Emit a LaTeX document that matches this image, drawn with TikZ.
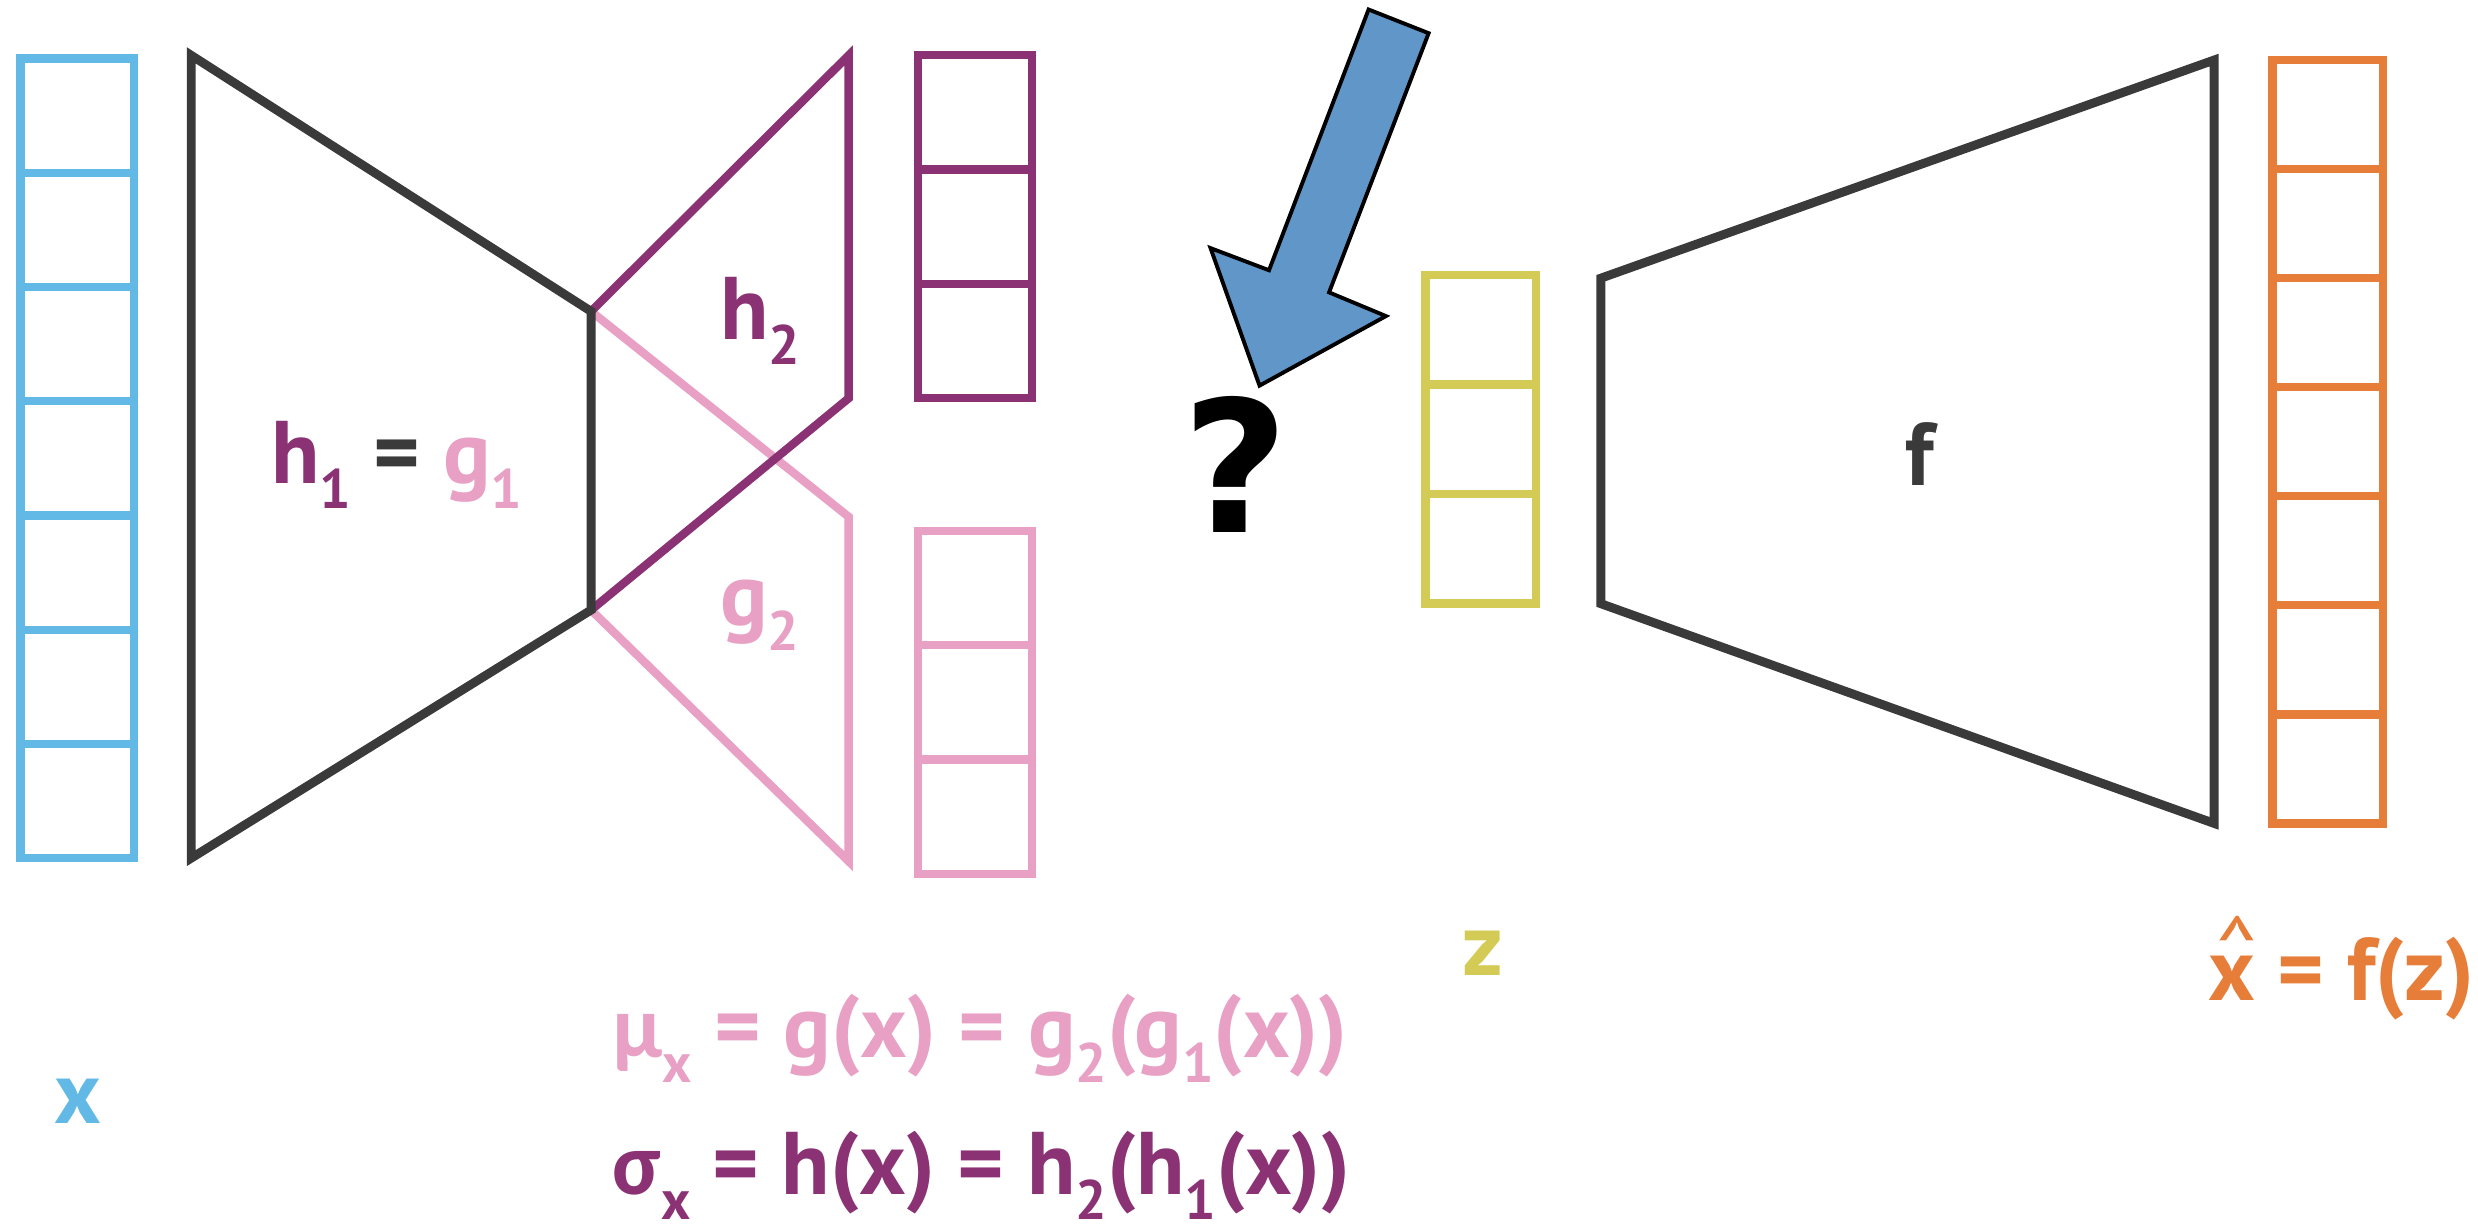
\documentclass[tikz,border=0pt]{standalone}
\usepackage{fontspec}
\setmainfont{PT Sans}
\newfontfamily\greekfont{Carlito}
\newfontfamily\qmarkfont{DejaVu Sans}
\definecolor{xblue}{RGB}{99,185,230}
\definecolor{darkline}{RGB}{58,58,58}
\definecolor{hpurple}{RGB}{139,50,117}
\definecolor{gpink}{RGB}{232,161,196}
\definecolor{zyellow}{RGB}{212,203,87}
\definecolor{xorange}{RGB}{230,126,58}
\definecolor{arrowblue}{RGB}{96,150,200}
\newcommand{\lowsub}[1]{\raisebox{-4.5pt}{\fontsize{10}{10}\selectfont #1}}
\newcommand{\hatx}{\makebox[0pt][l]{\hspace{0.08em}\raisebox{0.24em}{\mdseries\textasciicircum}}x}

\begin{document}
\begin{tikzpicture}[x=0.01cm, y=-0.01cm, line width=1.5pt,
  lbl/.style={inner sep=0pt, font=\fontsize{16}{19}\selectfont\bfseries}]
  \useasboundingbox (0,0) rectangle (1568,778);
  % column of cells: x, top, count, cell height, width, colour
  \newcommand{\cells}[6]{%
    \foreach \i in {1,...,#3}
      \draw[#6] (#1,{#2+(\i-1)*#4}) rectangle ++(#5,#4);
  }
  % ---------------------------------------------------------------- input and encoder
  \cells{13}{37}{7}{72.3}{72}{xblue}
  \draw[gpink] (374,197) -- (537,327) -- (537,545) -- (374,386);
  \draw[hpurple] (374,197) -- (537,35) -- (537,252) -- (374,386);
  \draw[darkline, line width=1.6pt] (121,35) -- (374,197) -- (374,386) -- (121,543) -- cycle;
  \cells{581}{35}{3}{72.3}{72}{hpurple}
  \cells{581}{336}{3}{72.3}{72}{gpink}
  \node[lbl, anchor=base west] (hg1) at (169,306)
    {\color{hpurple}h\lowsub{1} \color{darkline}= \color{gpink}g\lowsub{1}};
  \node[lbl, anchor=base west, text=hpurple] (h2) at (453,215) {h\lowsub{2}};
  \node[lbl, anchor=base west, text=gpink] (g2) at (453,396) {g\lowsub{2}};
  % ---------------------------------------------------------------- the question
  \filldraw[fill=arrowblue, draw=black, line width=0.7pt]
    (866,6) -- (904,21) -- (841,185) -- (877,200) -- (797,244) -- (766,157) -- (803,171) -- cycle;
  \node[inner sep=0pt, anchor=base, font=\qmarkfont\bfseries\fontsize{33}{36}\selectfont] (qmark) at (782,337) {?};
  % ---------------------------------------------------------------- latent and decoder
  \cells{902}{174}{3}{69.3}{70}{zyellow}
  \draw[darkline, line width=1.6pt] (1013,176) -- (1401,38) -- (1401,521) -- (1013,382) -- cycle;
  \cells{1438}{38}{7}{69}{70}{xorange}
  \node[lbl, anchor=base, text=darkline] (f) at (1215,307) {f};
  % ---------------------------------------------------------------- labels
  \node[lbl, anchor=base, text=xblue] (xlab) at (49,711) {x};
  \node[lbl, anchor=base, text=zyellow] (zlab) at (938,617) {z};
  \node[lbl, anchor=base west, text=xorange] (xhatlab) at (1395,633) {\hatx{} = f(z)};
  \node[lbl, anchor=base west, text=gpink] (mulab) at (385,669)
    {{\greekfont μ}\lowsub{x} = g(x) = g\lowsub{2}(g\lowsub{1}(x))};
  \node[lbl, anchor=base west, text=hpurple] (sigmalab) at (385,756)
    {{\greekfont σ}\lowsub{x} = h(x) = h\lowsub{2}(h\lowsub{1}(x))};
\end{tikzpicture}
\end{document}
